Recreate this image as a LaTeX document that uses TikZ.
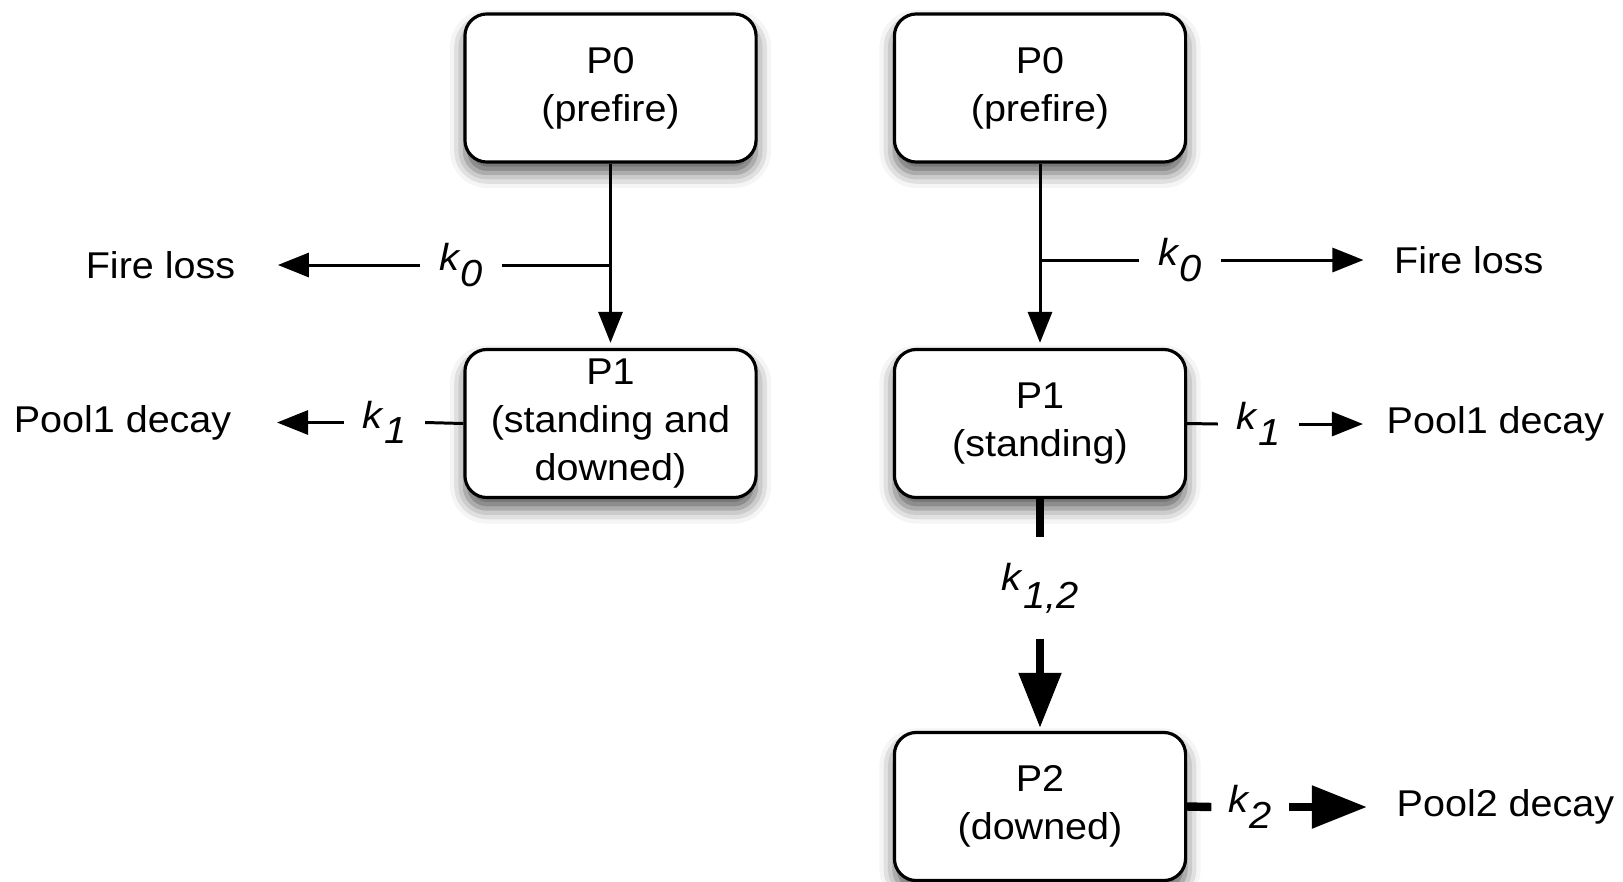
\documentclass[tikz,border=0pt]{standalone}
\usepackage{fontspec}
\setmainfont{Liberation Sans}[FakeStretch=1.06]
\usetikzlibrary{arrows.meta,shadows.blur}
\newcommand{\kl}[1]{\textit{k}\raisebox{-4.4pt}{\textit{#1}}}
\begin{document}
\begin{tikzpicture}[x=0.01cm,y=-0.01cm,
  state/.style={draw=black, line width=0.9pt, fill=white, rounded corners=0.22cm,
    minimum width=2.91cm, minimum height=1.48cm, align=center, inner sep=0pt,
    font=\fontsize{10.6}{13.7}\selectfont,
    blur shadow={shadow xshift=0cm, shadow yshift=-0.11cm, shadow blur radius=0.15cm, shadow opacity=65}},
  sidetext/.style={inner sep=0pt, font=\fontsize{10.6}{12}\selectfont},
  klabel/.style={inner xsep=0.18cm, inner ysep=0pt, font=\fontsize{10.7}{12}\selectfont},
  thinline/.style={line width=0.85pt},
  thinarrow/.style={line width=0.85pt, -{Triangle[length=0.31cm,width=0.24cm]}},
  thickline/.style={line width=2.4pt},
  thickarrow/.style={line width=2.4pt, -{Triangle[length=0.55cm,width=0.41cm]}}
]
\useasboundingbox (0,0) rectangle (1623,881);

% ---------- left diagram ----------
\node[state] (LP0) at (610.5,88) {P0\\(prefire)};
\node[state] (LP1) at (610.5,423.5) {P1\\(standing and\\downed)};
\draw[thinarrow, shorten >=0.05cm] (LP0.south) -- (LP1.north);

\coordinate (LB) at (610.5,265);
\node[klabel] (LK0) at (461,265) {\kl{0}};
\node[sidetext] (LFire) at (160.5,265) {Fire loss};
\draw[thinline] (LB) -- (LK0.east);
\draw[thinarrow, shorten >=0.42cm] (LK0.west) -- (LFire.east);

\node[klabel] (LK1) at (384.5,422.5) {\kl{1}};
\node[sidetext, anchor=east] (LPool) at (232,422.5) {Pool1 decay};
\draw[thinline] (LP1.west) -- (LK1.east);
\draw[thinarrow, shorten >=0.45cm] (LK1.west) -- (LPool.east);

% ---------- right diagram ----------
\node[state] (RP0) at (1040,88) {P0\\(prefire)};
\node[state] (RP1) at (1040,423.5) {P1\\(standing)};
\node[state] (RP2) at (1040,806.5) {P2\\(downed)};
\draw[thinarrow, shorten >=0.05cm] (RP0.south) -- (RP1.north);

\coordinate (RB) at (1040,260);
\node[klabel] (RK0) at (1180,260) {\kl{0}};
\node[sidetext, anchor=west] (RFire) at (1393.5,260) {Fire loss};
\draw[thinline] (RB) -- (RK0.west);
\draw[thinarrow, shorten >=0.30cm] (RK0.east) -- (RFire.west);

\node[klabel] (RK1) at (1258.5,424) {\kl{1}};
\node[sidetext, anchor=west] (RPool1) at (1386,424) {Pool1 decay};
\draw[thinline] (RP1.east) -- (RK1.west);
\draw[thinarrow, shorten >=0.23cm] (RK1.east) -- (RPool1.west);

\node[klabel, inner ysep=0.25cm] (RK12) at (1040,588) {\textit{k}\raisebox{-5pt}{\textit{1,2}}};
\draw[thickline] (RP1.south) -- (RK12.north);
\draw[thickarrow, shorten >=0.03cm] (RK12.south) -- (RP2.north);

\node[klabel, inner xsep=0.16cm] (RK2) at (1250,807) {\kl{2}};
\node[sidetext, anchor=west] (RPool2) at (1396,807) {Pool2 decay};
\draw[thickline] (RP2.east) -- (RK2.west);
\draw[thickarrow, shorten >=0.29cm] (RK2.east) -- (RPool2.west);
\end{tikzpicture}
\end{document}
